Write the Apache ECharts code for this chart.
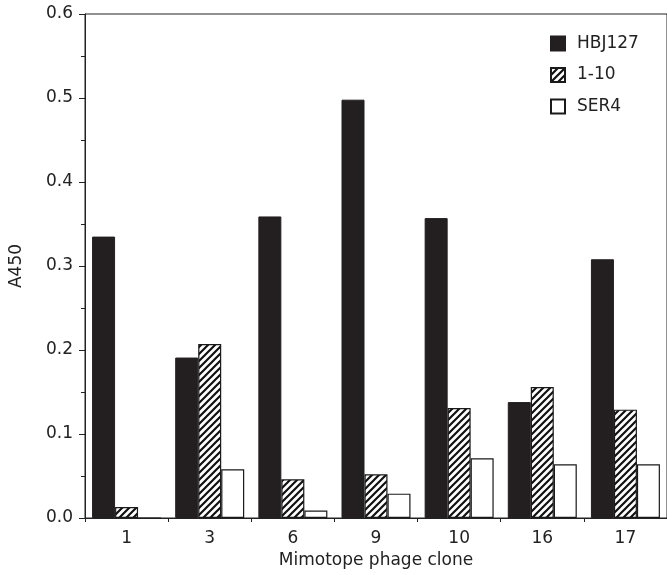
<!DOCTYPE html>
<html>
<head>
<meta charset="utf-8">
<script src="https://cdn.jsdelivr.net/npm/echarts@6/dist/echarts.min.js"></script>
<style>
  html, body { margin: 0; padding: 0; background: #fff; }
  #chart { width: 667px; height: 575px; }
</style>
</head>
<body>
<div id="chart"></div>
<script>
const clones = ['1', '3', '6', '9', '10', '16', '17'];
const hbj127 = [0.335, 0.191, 0.359, 0.498, 0.357, 0.138, 0.308];
const ab110 = [0.013, 0.207, 0.046, 0.052, 0.131, 0.156, 0.129];
const ser4 = [0, 0.058, 0.009, 0.029, 0.071, 0.064, 0.064];

// diagonal hatch for 1-10
const hatch = document.createElement('canvas');
hatch.width = 7;
hatch.height = 7;
const hc = hatch.getContext('2d');
hc.fillStyle = '#fff';
hc.fillRect(0, 0, 7, 7);
hc.strokeStyle = '#111';
hc.lineWidth = 2.2;
hc.beginPath();
hc.moveTo(-1, 8); hc.lineTo(8, -1);
hc.moveTo(-4.5, 4.5); hc.lineTo(4.5, -4.5);
hc.moveTo(2.5, 11.5); hc.lineTo(11.5, 2.5);
hc.stroke();

const font = 'DejaVu Sans, Arial, sans-serif';
const ink = '#222';
const chart = echarts.init(document.getElementById('chart'));

const barBase = {
  type: 'bar',
  barWidth: 23,
  barGap: '0%'
};

chart.setOption({
  animation: false,
  grid: { left: 84, right: 0, top: 14, bottom: 57, show: true, borderColor: ink, borderWidth: 1 },
  legend: {
    orient: 'vertical',
    left: 545,
    top: 30,
    icon: 'rect',
    itemWidth: 14,
    itemHeight: 14,
    itemGap: 14.5,
    textStyle: { fontFamily: font, fontSize: 17, color: ink, padding: [0, 0, 0, 7] },
    data: ['HBJ127', '1-10', 'SER4']
  },
  xAxis: {
    type: 'category',
    data: clones,
    name: 'Mimotope phage clone',
    nameLocation: 'middle',
    nameGap: 29,
    nameTextStyle: { fontFamily: font, fontSize: 17, color: ink },
    axisLine: { lineStyle: { color: ink, width: 1 } },
    axisTick: { show: true, length: 4, lineStyle: { color: ink } },
    axisLabel: { fontFamily: font, fontSize: 17, color: ink, margin: 12 }
  },
  yAxis: {
    type: 'value',
    min: 0,
    max: 0.6,
    interval: 0.1,
    name: 'A450',
    nameLocation: 'middle',
    nameGap: 60,
    nameTextStyle: { fontFamily: font, fontSize: 17, color: ink },
    axisLine: { show: true, lineStyle: { color: ink, width: 1 } },
    axisTick: { show: true, length: 6, lineStyle: { color: ink } },
    minorTick: { show: true, splitNumber: 2, length: 4, lineStyle: { color: ink } },
    splitLine: { show: false },
    axisLabel: { fontFamily: font, fontSize: 17, color: ink, margin: 12, formatter: v => v.toFixed(1) }
  },
  series: [
    Object.assign({}, barBase, { name: 'HBJ127', data: hbj127, itemStyle: { color: '#231f20', borderColor: '#231f20', borderWidth: 1 } }),
    Object.assign({}, barBase, { name: '1-10', data: ab110, itemStyle: { color: { image: hatch, repeat: 'repeat' }, borderColor: '#1a1a1a', borderWidth: 1.2 } }),
    Object.assign({}, barBase, { name: 'SER4', data: ser4, itemStyle: { color: '#fff', borderColor: '#1a1a1a', borderWidth: 1.2 } })
  ]
});
</script>
</body>
</html>
